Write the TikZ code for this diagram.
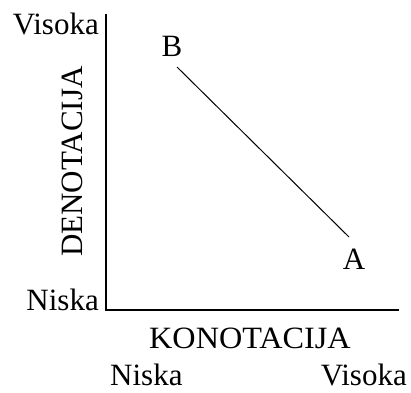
\documentclass[tikz,border=0pt]{standalone}
\usepackage{fontspec}
\setmainfont{Liberation Serif}
\tikzset{
  lbl/.style={inner sep=0pt, font=\fontsize{31}{32}\selectfont},
  axis/.style={line width=1.6pt},
}
\begin{document}
\begin{tikzpicture}[x=1pt, y=-1pt]
\useasboundingbox (0,0) rectangle (411,392);
% Axes
\coordinate (origin) at (106,310);
\coordinate (ytop) at (106,14);
\coordinate (xend) at (399,310);
\draw [axis] (ytop) -- (origin) -- (xend);

% Axis labels
\node (yhigh) [lbl, anchor=base east] at (99,34) {Visoka};
\node (ylow) [lbl, anchor=base east] at (99,310) {Niska};
\node (ytitle) [lbl, rotate=90] at (72.5,161.5) {DENOTACIJA};
\node (xtitle) [lbl, xscale=1.04] at (250,338.5) {KONOTACIJA};
\node (xlow) [lbl, anchor=base west] at (110,385) {Niska};
\node (xhigh) [lbl, anchor=base east] at (407,385) {Visoka};

% Points
\node (b) [lbl] at (172,46) {B};
\node (a) [lbl] at (354,259) {A};
\coordinate (bend) at (177,67);
\coordinate (aend) at (349,237);
\draw [line width=1pt] (bend) -- (aend);
\end{tikzpicture}
\end{document}
